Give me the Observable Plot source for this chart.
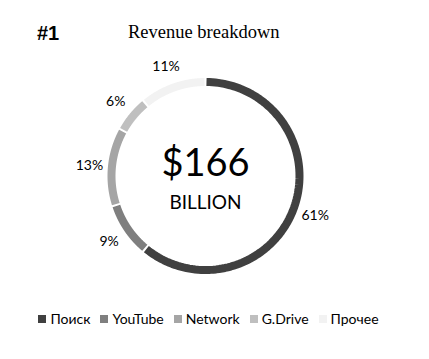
<!DOCTYPE html>
<html><head><meta charset="utf-8">
<script src="https://cdn.jsdelivr.net/npm/d3@7"></script>
<script src="https://cdn.jsdelivr.net/npm/@observablehq/plot@0.6"></script>
<style>
body{margin:0;background:#fff;font-family:Lato,"Noto Sans",sans-serif;}
#wrap{position:relative;width:429px;height:359px;overflow:hidden;}
#num{position:absolute;left:37px;top:22px;font:bold 20px "Liberation Sans",Arial,sans-serif;color:#000;}
#title{position:absolute;left:128px;top:22px;font:18.5px "Liberation Serif","Times New Roman",serif;color:#000;}
#chart{position:absolute;left:0;top:58px;}
#legend{position:absolute;left:-6px;width:429px;top:310px;display:flex;justify-content:center;font-size:14px;color:#000;}
#legend .it{display:flex;align-items:center;margin:0 5px;}
#legend .sw{width:8px;height:8px;margin-right:4px;}
</style></head>
<body><div id="wrap">
<div id="num"></div><div id="title"></div>
<div id="chart"></div>
<div id="legend"></div>
</div>
<script>
const chartNumber = "#1";
const chartTitle = "Revenue breakdown";
const categories = ["Поиск", "YouTube", "Network", "G.Drive", "Прочее"];
const shares = [61, 9, 13, 6, 11];
const colors = ["#404040", "#7f7f7f", "#a5a5a5", "#bfbfbf", "#f2f2f2"];
const totalLabel = "$166";
const unitLabel = "BILLION";

document.getElementById("num").textContent = chartNumber;
document.getElementById("title").textContent = chartTitle;

const total = d3.sum(shares);
const gap = 0.6 * Math.PI / 180;
const arcPts = [];
const labels = [];
let acc = 0;
categories.forEach((c, i) => {
  const a0 = acc / total * 2 * Math.PI;
  acc += shares[i];
  const a1 = acc / total * 2 * Math.PI;
  const n = 120;
  for (let k = 0; k <= n; k++) {
    const a = (a0 + gap) + (a1 - a0 - 2 * gap) * k / n;
    arcPts.push({cat: c, x: Math.sin(a), y: Math.cos(a)});
  }
  const am = (a0 + a1) / 2;
  const r = 1.24;
  labels.push({text: shares[i] + "%", x: r * Math.sin(am), y: r * Math.cos(am)});
});

const cy = 117.5, cx = 205, R = 94;
const plot = Plot.plot({
  width: 429, height: 240,
  x: {domain: [-1, 1], range: [cx - R, cx + R], axis: null},
  y: {domain: [-1, 1], range: [cy + R, cy - R], axis: null},
  color: {domain: categories, range: colors},
  style: {fontFamily: 'Lato,"Noto Sans",sans-serif', background: "transparent"},
  marks: [
    Plot.line(arcPts, {x: "x", y: "y", z: "cat", stroke: "cat", strokeWidth: 8, strokeLinecap: "butt", curve: "linear"}),
    Plot.text(labels, {x: "x", y: "y", text: "text", fontSize: 14, fill: "#000", textAnchor: "middle", lineAnchor: "middle"}),
    Plot.text([totalLabel], {x: 0, y: 0, text: d => d, fontSize: 38, dy: -12, fill: "#000", lineAnchor: "middle"}),
    Plot.text([unitLabel], {x: 0, y: 0, text: d => d, fontSize: 19, dy: 27, fill: "#000", lineAnchor: "middle"})
  ]
});
document.getElementById("chart").appendChild(plot);

const leg = document.getElementById("legend");
categories.forEach((c, i) => {
  const it = document.createElement("div"); it.className = "it";
  const sw = document.createElement("div"); sw.className = "sw"; sw.style.background = colors[i];
  const t = document.createElement("span"); t.textContent = c;
  it.appendChild(sw); it.appendChild(t); leg.appendChild(it);
});
</script>
</body></html>
